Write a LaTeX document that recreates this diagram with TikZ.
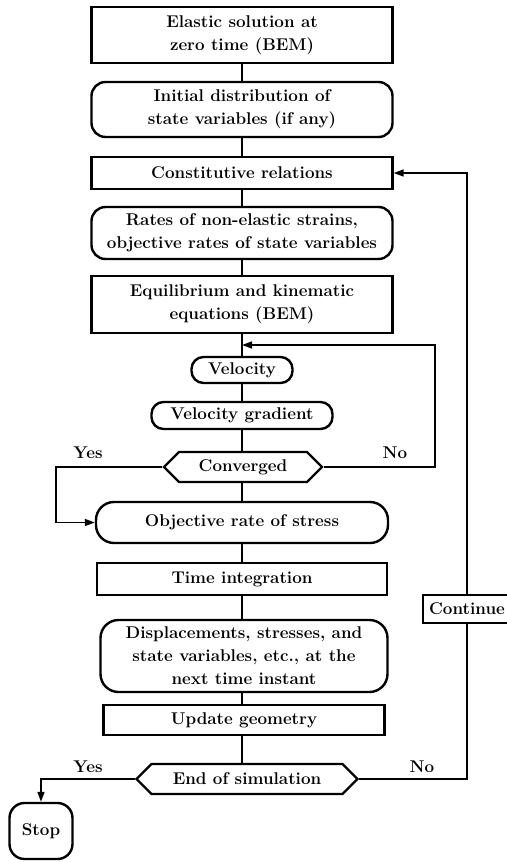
\documentclass[tikz,border=0pt]{standalone}
\usetikzlibrary{arrows.meta, shapes.symbols}
\newcommand{\flowfont}{\fontsize{17}{23}\selectfont\bfseries}

\begin{document}
\begin{tikzpicture}[
  x=1pt, y=-1pt,
  blk/.style={draw, line width=2.4pt, rectangle, minimum width=301pt, align=center,
              font=\flowfont, inner sep=2pt},
  rnd/.style={blk, rounded corners=14pt},
  dec/.style={draw, line width=2.4pt, signal, signal to=east and west,
              signal pointer angle=90, minimum height=30pt, font=\flowfont, inner sep=2pt},
  lbl/.style={font=\flowfont},
  ln/.style={line width=1.6pt},
  arr/.style={ln, -{Triangle[length=10pt, width=7pt]}}
]
\useasboundingbox (0,0) rectangle (506,862);
% main column
\node[blk] (init)  at (242, 35)   [minimum height=56pt] {Elastic solution at\\zero time (BEM)};
\node[rnd] (dist)  at (242, 109.5)[minimum height=55pt] {Initial distribution of\\state variables (if any)};
\node[blk] (const) at (242, 173)  [minimum height=32pt] {Constitutive relations};
\node[rnd] (rates) at (242, 233)  [minimum height=52pt] {Rates of non-elastic strains,\\objective rates of state variables};
\node[blk] (equil) at (242, 304.5)[minimum height=57pt] {Equilibrium and kinematic\\equations (BEM)};
\node[rnd] (vel)   at (242, 370)  [minimum width=101pt, minimum height=26pt, rounded corners=12pt] {Velocity};
\node[rnd] (vgrad) at (242, 415.5)[minimum width=181pt, minimum height=27pt, rounded corners=12pt] {Velocity gradient};
\node[dec] (conv)  at (243, 467)  [minimum width=158pt] {Converged};
\node[rnd] (obj)   at (242, 522.5)[minimum width=292pt, minimum height=41pt, rounded corners=18pt] {Objective rate of stress};
\node[blk] (tint)  at (242, 579)  [minimum width=290pt, minimum height=32pt] {Time integration};
\node[rnd] (disp)  at (244, 656)  [minimum width=287pt, minimum height=72pt, rounded corners=18pt] {Displacements, stresses, and\\state variables, etc., at the\\next time instant};
\node[blk] (upd)   at (244, 720)  [minimum width=281pt, minimum height=30pt] {Update geometry};
\node[dec] (endsim) at (247, 779) [minimum width=221pt] {End of simulation};
\node[rnd] (stop)  at (41, 831)   [minimum width=63pt, minimum height=56pt, rounded corners=15pt] {Stop};
\node[blk] (cont)  at (467, 609)  [minimum width=88pt, minimum height=28pt, inner sep=6pt] {Continue};
% labels
\node[lbl] (yes1) at (88, 453)  {Yes};
\node[lbl] (no1)  at (395, 453) {No};
\node[lbl] (yes2) at (88, 767)  {Yes};
\node[lbl] (no2)  at (422, 767) {No};
% helper points
\coordinate (jn) at (242, 345);
% straight links
\draw[ln] (init) -- (dist);
\draw[ln] (dist) -- (const);
\draw[ln] (const) -- (rates);
\draw[ln] (rates) -- (equil);
\draw[ln] (equil) -- (vel);
\draw[ln] (vel) -- (vgrad);
\draw[ln] (vgrad.south) -- (conv.north -| vgrad.south);
\draw[ln] (conv.south -| obj.north) -- (obj.north);
\draw[ln] (obj) -- (tint);
\draw[ln] (tint.south) -- (disp.north -| tint.south);
\draw[ln] (disp.south -| tint.south) -- (upd.north -| tint.south);
\draw[ln] (upd.south -| tint.south) -- (endsim.north -| tint.south);
% loops
\draw[arr] (conv.east) -- (435, 467) -- (435, 345) -- (jn);
\draw[arr] (conv.west) -- (56, 467) |- (obj.west);
\draw[ln] (endsim.east) -| (cont.south);
\draw[arr] (cont.north) |- (const.east);
\draw[arr] (endsim.west) -| (stop.north);
\end{tikzpicture}
\end{document}
